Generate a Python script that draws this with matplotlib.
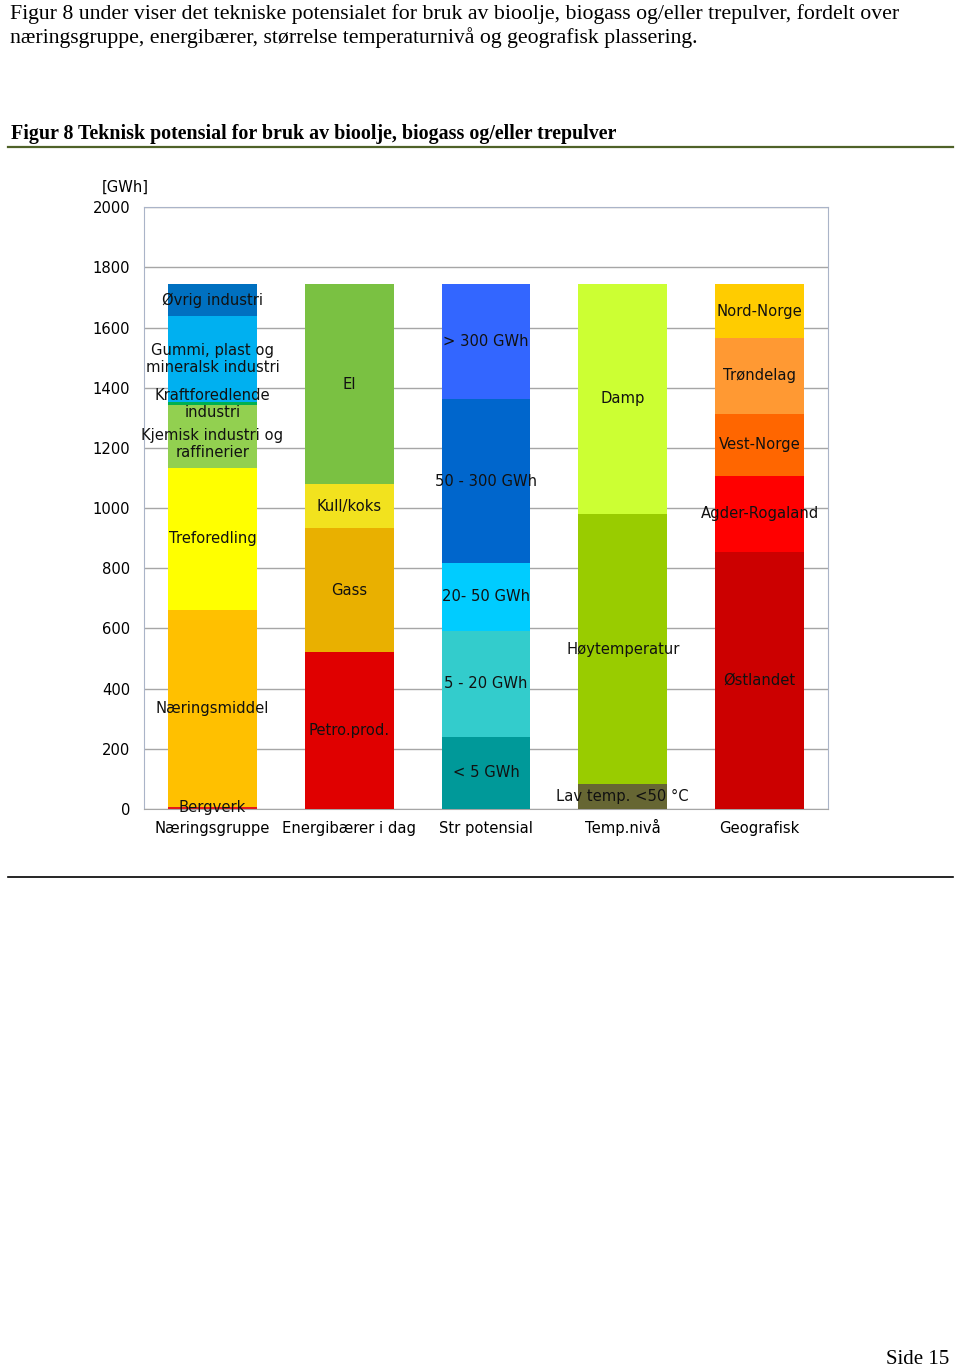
import numpy as np
import matplotlib.pyplot as plt
from matplotlib.lines import Line2D

# kategorier (x-akse)
groups = ["Næringsgruppe", "Energibærer i dag", "Str potensial", "Temp.nivå", "Geografisk"]

# segmenter nedenfra og opp, verdier i GWh
naering_labels = ["Bergverk", "Næringsmiddel", "Treforedling", "Kjemisk industri og\nraffinerier",
                  "Kraftforedlende\nindustri", "Gummi, plast og\nmineralsk industri", "Øvrig industri"]
naering_values = [8, 653, 473, 209, 9, 287, 106]
naering_colors = ["#e41a1a", "#ffc000", "#ffff00", "#92d050", "#00b050", "#00b0f0", "#0070c0"]

energi_labels = ["Petro.prod.", "Gass", "Kull/koks", "El"]
energi_values = [521, 413, 145, 666]
energi_colors = ["#e00000", "#e9b000", "#f2e21e", "#7ac142"]

str_labels = ["< 5 GWh", "5 - 20 GWh", "20- 50 GWh", "50 - 300 GWh", "> 300 GWh"]
str_values = [240, 353, 224, 546, 382]
str_colors = ["#009999", "#33cccc", "#00ccff", "#0066cc", "#3366ff"]

temp_labels = ["Lav temp. <50 °C", "Høytemperatur", "Damp"]
temp_values = [82, 899, 764]
temp_colors = ["#666633", "#99cc00", "#ccff33"]

geo_labels = ["Østlandet", "Agder-Rogaland", "Vest-Norge", "Trøndelag", "Nord-Norge"]
geo_values = [855, 252, 207, 251, 180]
geo_colors = ["#cc0000", "#ff0000", "#ff6600", "#ff9933", "#ffcc00"]

stacks = [
    (naering_labels, naering_values, naering_colors),
    (energi_labels, energi_values, energi_colors),
    (str_labels, str_values, str_colors),
    (temp_labels, temp_values, temp_colors),
    (geo_labels, geo_values, geo_colors),
]

fig = plt.figure(figsize=(9.6, 13.67), dpi=100)
W, H = 960, 1367

ax = fig.add_axes([144 / W, 1 - 809 / H, (828 - 144) / W, (809 - 207.3) / H])

fs = 10.6
for i, (labs, vals, cols) in enumerate(stacks):
    bottom = 0
    for lab, v, c in zip(labs, vals, cols):
        ax.bar(i, v, bottom=bottom, width=0.65, color=c, zorder=3)
        yc = bottom + v / 2
        if lab.startswith("Kjemisk"):
            yc -= 25
        ax.text(i, yc, lab, ha="center", va="center", fontsize=fs, color="#111111",
                linespacing=1.15, zorder=4)
        bottom += v

ax.set_xlim(-0.5, 4.5)
ax.set_ylim(0, 2000)
ax.set_yticks(np.arange(0, 2001, 200))
ax.set_xticks(range(len(groups)))
ax.set_xticklabels(groups, fontsize=fs, va="baseline")
ax.tick_params(axis="y", length=0, pad=10, labelsize=fs)
ax.tick_params(axis="x", length=0, pad=17)
ax.yaxis.grid(True, color="#a6a6a6", lw=1, zorder=0)
ax.set_axisbelow(True)
for s in ["top", "right", "left"]:
    ax.spines[s].set_color("#aab4c8")
ax.spines["bottom"].set_color("#a6a6a6")

fig.text(125 / W, 1 - 187 / H, "[GWh]", ha="center", va="center", fontsize=fs)

# dokumenttekst
serif = "Liberation Serif"
fig.text(10 / W, 1 - 19 / H, "Figur 8 under viser det tekniske potensialet for bruk av bioolje, biogass og/eller trepulver, fordelt over",
         family=serif, fontsize=15.7, va="baseline")
fig.text(10 / W, 1 - 43 / H, "næringsgruppe, energibærer, størrelse temperaturnivå og geografisk plassering.",
         family=serif, fontsize=15.7, va="baseline")
fig.text(11 / W, 1 - 139 / H, "Figur 8 Teknisk potensial for bruk av bioolje, biogass og/eller trepulver",
         family=serif, fontsize=14.4, fontweight="bold", va="baseline")
fig.add_artist(Line2D([8 / W, 953 / W], [1 - 147 / H, 1 - 147 / H], color="#4f6228", lw=1.6))
fig.add_artist(Line2D([8 / W, 953 / W], [1 - 877 / H, 1 - 877 / H], color="black", lw=1.2))
fig.text(949 / W, 1 - 1364 / H, "Side 15", family=serif, fontsize=15, ha="right", va="baseline")

fig.savefig("out.png", dpi=100)
